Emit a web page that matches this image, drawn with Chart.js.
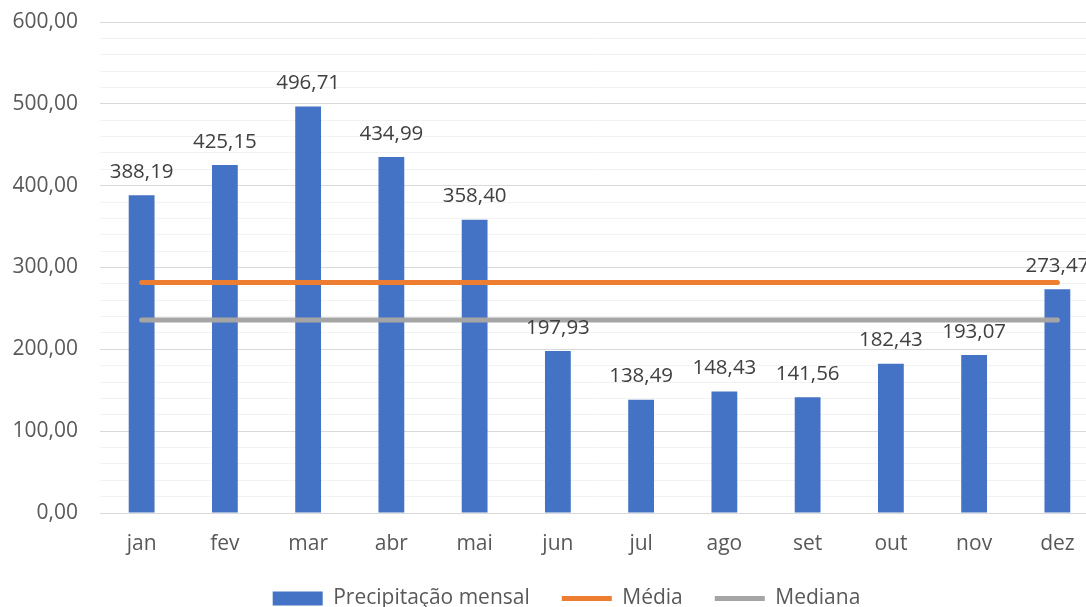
<!DOCTYPE html>
<html lang="pt">
<head>
    <meta charset="UTF-8">
    <title>Precipitação mensal</title>
    <script src="https://cdn.jsdelivr.net/npm/chart.js"></script>
    <style>
        html, body { margin: 0; padding: 0; background: #fff; overflow: hidden; }
        #wrap { position: relative; width: 1132px; height: 607px; }
    </style>
</head>
<body>
    <div id="wrap">
        <canvas id="rainChart"></canvas>
    </div>

    <script>
        // dados
        const meses = ['jan', 'fev', 'mar', 'abr', 'mai', 'jun', 'jul', 'ago', 'set', 'out', 'nov', 'dez'];
        const precipitacao = [388.19, 425.15, 496.71, 434.99, 358.40, 197.93, 138.49, 148.43, 141.56, 182.43, 193.07, 273.47];
        const media = 281.57;
        const mediana = 235.70;
        const yTicks = [0, 100, 200, 300, 400, 500, 600];

        const fmt = v => v.toFixed(2).replace('.', ',');
        const fontFamily = '"Open Sans", "Noto Sans", sans-serif';

        // rótulos de valor acima das barras
        const barLabels = {
            id: 'barLabels',
            afterDatasetsDraw(chart) {
                const ctx = chart.ctx;
                const meta = chart.getDatasetMeta(0);
                ctx.save();
                ctx.font = '20.5px ' + fontFamily;
                ctx.fillStyle = '#404040';
                ctx.textAlign = 'center';
                ctx.textBaseline = 'bottom';
                meta.data.forEach((bar, i) => {
                    ctx.fillText(fmt(precipitacao[i]), bar.x, bar.y - 13);
                });
                ctx.restore();
            }
        };

        // empurra a legenda um pouco para a direita, como no original
        const legendShift = {
            id: 'legendShift',
            afterLayout(chart) {
                if (chart.legend) {
                    chart.legend.left += 12;
                    chart.legend.right += 12;
                }
            }
        };

        const ctx = document.getElementById('rainChart').getContext('2d');
        new Chart(ctx, {
            type: 'bar',
            data: {
                labels: meses,
                datasets: [{
                    label: 'Precipitação mensal',
                    data: precipitacao,
                    backgroundColor: '#4472C4',
                    barPercentage: 0.31,
                    categoryPercentage: 1,
                    pointStyle: 'rect',
                    order: 3
                }, {
                    type: 'line',
                    label: 'Média',
                    data: meses.map(() => media),
                    borderColor: '#ED7D31',
                    backgroundColor: '#ED7D31',
                    borderWidth: 5,
                    borderCapStyle: 'round',
                    pointRadius: 0,
                    pointStyle: 'line',
                    order: 1
                }, {
                    type: 'line',
                    label: 'Mediana',
                    data: meses.map(() => mediana),
                    borderColor: '#A5A5A5',
                    backgroundColor: '#A5A5A5',
                    borderWidth: 5,
                    borderCapStyle: 'round',
                    pointRadius: 0,
                    pointStyle: 'line',
                    order: 2
                }]
            },
            options: {
                responsive: true,
                maintainAspectRatio: false,
                animation: false,
                layout: { padding: { left: 10, right: 33, top: 22, bottom: -12 } },
                plugins: {
                    tooltip: { enabled: false },
                    legend: {
                        position: 'bottom',
                        labels: {
                            usePointStyle: true,
                            pointStyleWidth: 50,
                            boxHeight: 14,
                            padding: 32,
                            color: '#595959',
                            font: { family: fontFamily, size: 21 },
                            sort: (a, b) => a.datasetIndex - b.datasetIndex
                        }
                    }
                },
                scales: {
                    x: {
                        grid: { display: false, drawTicks: false },
                        border: { color: '#D9D9D9', width: 1 },
                        ticks: {
                            color: '#595959',
                            padding: 18,
                            font: { family: fontFamily, size: 21 }
                        },
                        afterFit: s => { s.height = 43; }
                    },
                    y: {
                        min: yTicks[0],
                        max: yTicks[yTicks.length - 1],
                        border: { display: false },
                        grid: {
                            drawTicks: false,
                            color: c => (c.tick.value % 100 === 0 ? '#D9D9D9' : '#F2F2F2'),
                            lineWidth: 1
                        },
                        ticks: {
                            stepSize: 20,
                            autoSkip: false,
                            padding: 22,
                            color: '#595959',
                            font: { family: fontFamily, size: 21 },
                            callback: v => (yTicks.includes(v) ? fmt(v) : '')
                        },
                        afterFit: s => { s.width = 90; s.paddingTop = 12; s.paddingBottom = 0; }
                    }
                }
            },
            plugins: [barLabels, legendShift]
        });
    </script>
</body>
</html>
